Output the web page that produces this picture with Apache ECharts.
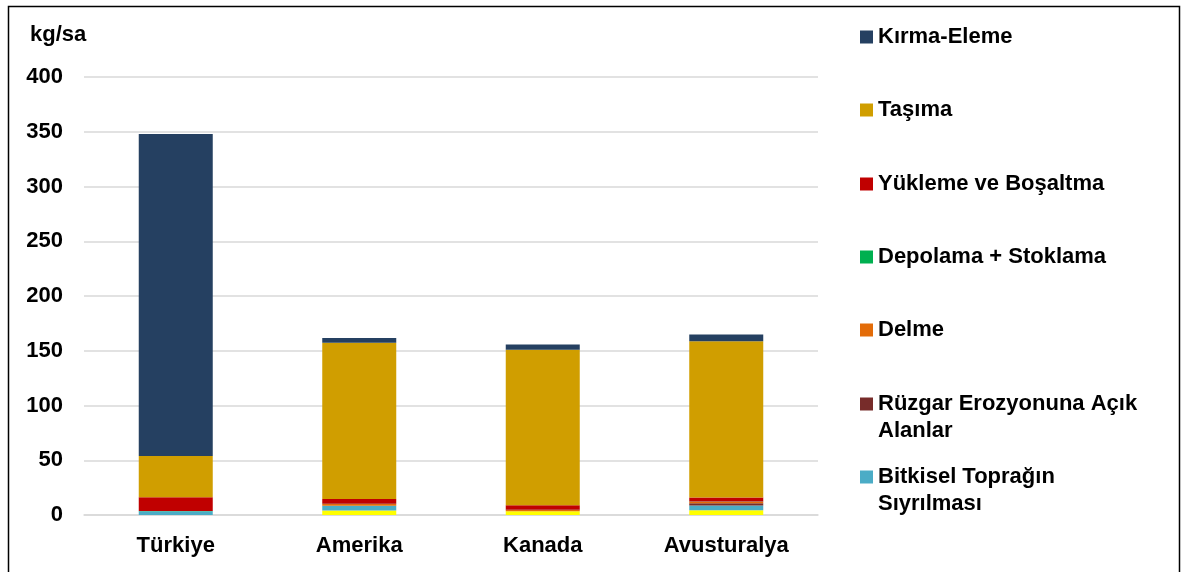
<!DOCTYPE html>
<html>
<head>
<meta charset="utf-8">
<script src="https://cdn.jsdelivr.net/npm/echarts@6/dist/echarts.min.js"></script>
<style>
  html, body { margin: 0; padding: 0; background: #fff; }
  #chart { width: 1181px; height: 572px; }
</style>
</head>
<body>
<div id="chart"></div>
<script>
// Dust emission by source, kg/sa, stacked per country
const categories = ['Türkiye', 'Amerika', 'Kanada', 'Avusturalya'];
const yTicks = { min: 0, max: 400, interval: 50 };

// Stack order, bottom to top
const patlatma = [0, 4, 3.5, 4.4];
const bitkisel = [3.5, 4.5, 0, 4.3];
const ruzgar = [0, 0, 0, 2];
const delme = [0, 1.5, 1, 1.5];
const depolama = [0.2, 0.2, 0.2, 0.2];
const yukleme = [12.5, 4.4, 4.3, 3.6];
const tasima = [37.7, 142.8, 142, 142.7];
const kirma = [294, 4.2, 4.7, 6.1];

const seriesDefs = [
  { name: 'Patlatma', data: patlatma, color: '#FFFF00' },
  { name: 'Bitkisel Toprağın\nSıyrılması', data: bitkisel, color: '#4BACC6' },
  { name: 'Rüzgar Erozyonuna Açık\nAlanlar', data: ruzgar, color: '#772C2A' },
  { name: 'Delme', data: delme, color: '#E36C09' },
  { name: 'Depolama + Stoklama', data: depolama, color: '#00B050' },
  { name: 'Yükleme ve Boşaltma', data: yukleme, color: '#C00000' },
  { name: 'Taşıma', data: tasima, color: '#D09E00' },
  { name: 'Kırma-Eleme', data: kirma, color: '#254061' }
];

// Legend entries, top to bottom, with the vertical centre of each marker
const legendRows = [
  { name: 'Kırma-Eleme', y: 37 },
  { name: 'Taşıma', y: 110 },
  { name: 'Yükleme ve Boşaltma', y: 184 },
  { name: 'Depolama + Stoklama', y: 257 },
  { name: 'Delme', y: 330 },
  { name: 'Rüzgar Erozyonuna Açık\nAlanlar', y: 404 },
  { name: 'Bitkisel Toprağın\nSıyrılması', y: 477 }
];

const FONT = '"Liberation Sans", Arial, sans-serif';
const LINE = 27;
const LEGEND_X = 860;
const TEXT_X = 878;

// One legend per row; wrapped names show their first line in the legend
// and the continuation lines as plain text underneath it
const legends = legendRows.map(function (row) {
  return {
    data: [row.name],
    left: LEGEND_X,
    top: row.y - LINE / 2,
    orient: 'vertical',
    padding: 0,
    itemWidth: 13,
    itemHeight: 13,
    itemGap: 0,
    icon: 'rect',
    selectedMode: false,
    formatter: function (name) { return name.split('\n')[0]; },
    textStyle: {
      fontFamily: FONT,
      fontWeight: 'bold',
      fontSize: 22,
      lineHeight: LINE,
      color: '#000'
    }
  };
});

const continuationTexts = [];
legendRows.forEach(function (row) {
  row.name.split('\n').slice(1).forEach(function (line, i) {
    continuationTexts.push({
      type: 'text',
      left: TEXT_X,
      top: row.y + LINE * (i + 1) - LINE / 2,
      silent: true,
      style: {
        text: line,
        font: 'bold 22px ' + FONT,
        fill: '#000',
        lineHeight: LINE
      }
    });
  });
});

const chart = echarts.init(document.getElementById('chart'), null, { renderer: 'canvas' });

chart.setOption({
  animation: false,
  backgroundColor: '#fff',
  title: {
    text: 'kg/sa',
    left: 30,
    top: 24,
    padding: 0,
    textStyle: { fontFamily: FONT, fontWeight: 'bold', fontSize: 22, color: '#000' }
  },
  legend: legends,
  grid: { left: 84, right: 363, top: 77, bottom: 57 },
  xAxis: {
    type: 'category',
    data: categories,
    axisTick: { show: false },
    axisLine: { lineStyle: { color: '#d9d9d9', width: 1.5 } },
    axisLabel: {
      margin: 20,
      fontFamily: FONT,
      fontWeight: 'bold',
      fontSize: 22,
      color: '#000'
    }
  },
  yAxis: {
    type: 'value',
    min: yTicks.min,
    max: yTicks.max,
    interval: yTicks.interval,
    axisLine: { show: false },
    axisTick: { show: false },
    splitLine: { lineStyle: { color: '#d9d9d9', width: 1.5 } },
    axisLabel: {
      margin: 21,
      fontFamily: FONT,
      fontWeight: 'bold',
      fontSize: 22,
      color: '#000'
    }
  },
  series: seriesDefs.map(function (s) {
    return {
      name: s.name,
      type: 'bar',
      stack: 'total',
      barWidth: 74,
      data: s.data,
      itemStyle: { color: s.color },
      emphasis: { disabled: true }
    };
  }),
  graphic: [
    {
      type: 'rect',
      shape: { x: 8.5, y: 6.5, width: 1171, height: 600 },
      style: { fill: 'none', stroke: '#000', lineWidth: 1.5 },
      silent: true
    }
  ].concat(continuationTexts)
});
</script>
</body>
</html>
